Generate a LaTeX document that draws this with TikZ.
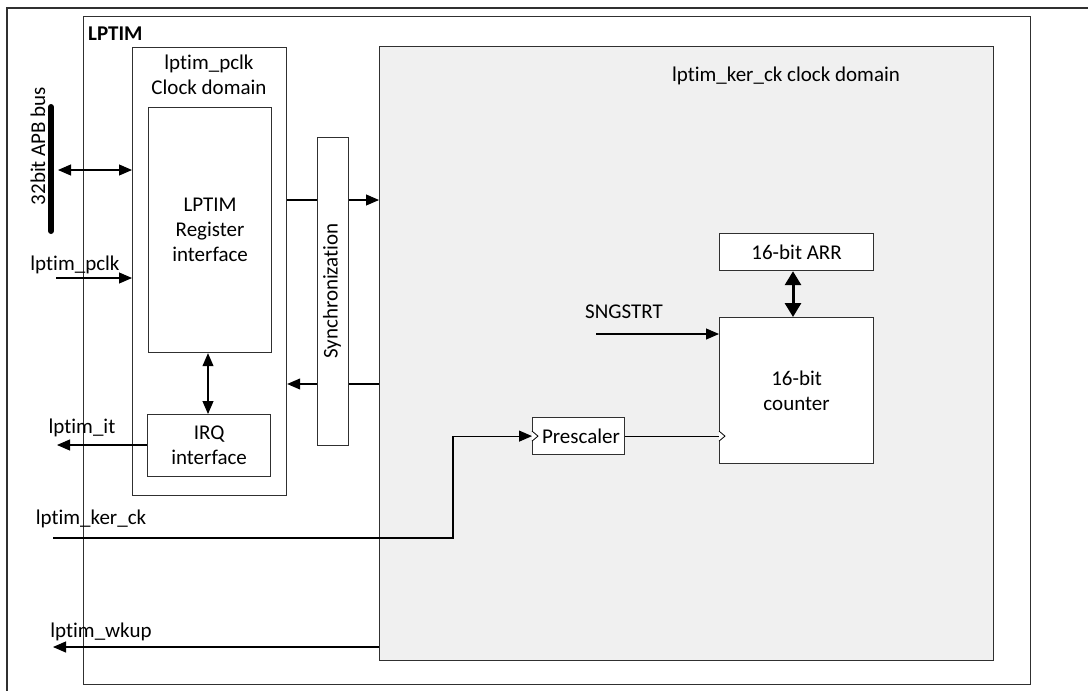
\documentclass[tikz,border=0pt]{standalone}
\usepackage{fontspec}
\setmainfont[Ligatures={NoCommon}]{Carlito}
\usetikzlibrary{arrows.meta}
\definecolor{lgray}{HTML}{F0F0F0}
\definecolor{edge}{HTML}{303030}
\begin{document}
\begin{tikzpicture}[x=1pt,y=-1pt,
  every node/.style={font=\fontsize{21}{25}\selectfont, text=black},
  blk/.style={draw=edge, line width=1.2pt, fill=white, anchor=north west, inner sep=0pt, align=center},
  wire/.style={draw=black, line width=1.1pt},
  arr/.style={wire, -{Triangle[length=13pt,width=11pt]}},
  darr/.style={wire, {Triangle[length=13pt,width=11pt]}-{Triangle[length=13pt,width=11pt]}},
  lbl/.style={inner sep=0pt}
]
\useasboundingbox (0,0) rectangle (1088,691);
% outer frame
\draw[edge, line width=1.2pt] (7,691) -- (7,8) -- (1088,8);
% LPTIM box
\node[blk, minimum width=947pt, minimum height=668pt] (lptim) at (83,16) {};
\node[lbl, anchor=west, font=\fontsize{21}{25}\selectfont\bfseries] (lptimlbl) at (88,34) {LPTIM};
% kernel clock domain
\node[blk, fill=lgray, minimum width=614pt, minimum height=614pt] (ker) at (379,46) {};
\node[lbl] (kerlbl) at (786,76) {lptim\_ker\_ck clock domain};
% pclk domain
\node[blk, minimum width=154pt, minimum height=448pt] (pclk) at (132,47) {};
\node[lbl, align=center] (pclklbl) at (209,75) {lptim\_pclk\\Clock domain};
\node[blk, minimum width=123pt, minimum height=245pt] (reg) at (148,107) {LPTIM\\Register\\interface};
\node[blk, minimum width=123pt, minimum height=62pt] (irq) at (147,414) {IRQ\\interface};
% synchronization
\node[blk, minimum width=31pt, minimum height=308pt] (sync) at (317,137) {};
\node[lbl, rotate=90] (synclbl) at (332,291) {Synchronization};
% kernel blocks
\node[blk, minimum width=154pt, minimum height=37pt] (arr) at (719,233) {16-bit ARR};
\node[blk, minimum width=154pt, minimum height=146pt] (cnt) at (719,317) {16-bit\\counter};
\node[blk, minimum width=92pt, minimum height=37pt] (pre) at (532,417) {};
\node[lbl] (prelbl) at (581,436) {Prescaler};
\node[lbl] (sng) at (624,312) {SNGSTRT};
% APB bus
\draw[line width=6pt, line cap=round] (51,107) -- (51,231);
\node[lbl, rotate=90] (buslbl) at (38,146) {32bit APB bus};
% external labels
\node[lbl] (pclkin) at (75,265) {lptim\_pclk};
\node[lbl] (itlbl) at (82,428) {lptim\_it};
\node[lbl] (kerin) at (91,519) {lptim\_ker\_ck};
\node[lbl] (wklbl) at (101,632) {lptim\_wkup};
% coordinates
\coordinate (busR) at (58,170);
\coordinate (pclkS) at (56,278);
\coordinate (itE) at (57,445);
\coordinate (kerS) at (53,538);
\coordinate (kerC) at (453,538);
\coordinate (wkE) at (53,647);
\coordinate (sngS) at (596,334);
% connectors
\draw[darr] (busR) -- (busR -| pclk.west);
\draw[arr] (pclkS) -- (pclkS -| pclk.west);
\draw[wire] (pclk.east |- 0,200) -- (sync.west |- 0,200);
\draw[arr] (sync.east |- 0,200) -- (ker.west |- 0,200);
\draw[wire] (ker.west |- 0,384) -- (sync.east |- 0,384);
\draw[arr] (sync.west |- 0,384) -- (pclk.east |- 0,384);
\draw[darr] (reg.south -| 208,0) -- (irq.north -| 208,0);
\draw[arr] (irq.west |- itE) -- (itE);
\draw[arr] (kerS) -- (kerC) -- (kerC |- pre.west) -- (pre.west);
\draw[wire] (pre.east) -- (pre.east -| cnt.west);
\draw[arr] (sngS) -- (sngS -| cnt.west);
\draw[line width=3pt, {Triangle[length=14pt,width=16pt]}-{Triangle[length=14pt,width=16pt]}] (arr.south -| 793,0) -- (cnt.north -| 793,0);
\draw[arr] (ker.west |- wkE) -- (wkE);
% clock triangles
\draw[line width=0.8pt, fill=white] (pre.west) ++(0,-5) -- ++(6,5) -- ++(-6,5);
\draw[line width=0.8pt, fill=white] (pre.east -| cnt.west) ++(0,-5) -- ++(6,5) -- ++(-6,5);
\end{tikzpicture}
\end{document}
